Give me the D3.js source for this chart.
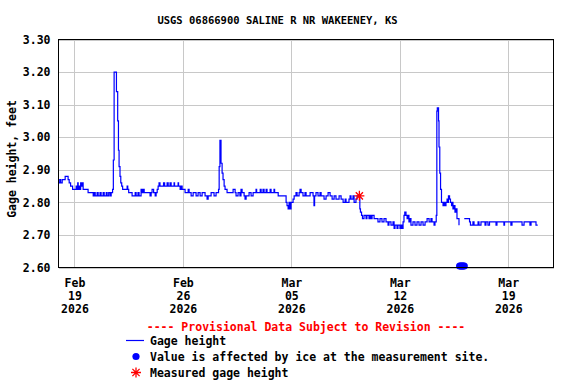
<!DOCTYPE html>
<html>
<head>
<meta charset="utf-8">
<script src="https://cdn.jsdelivr.net/npm/d3@7"></script>
<style>
  html, body { margin: 0; padding: 0; background: #fff; }
  svg { display: block; }
  text { font-family: "DejaVu Sans Mono", "Liberation Mono", monospace; font-weight: bold; }
</style>
</head>
<body>
<svg id="chart" width="576" height="384"></svg>
<script>
// ---- Data (time in days since 2026-02-19 00:00 UTC) ----
const title = "USGS 06866900 SALINE R NR WAKEENEY, KS";
const yLabel = "Gage height, feet";
const provisionalText = "---- Provisional Data Subject to Revision ----";
const legendLabels = ["Gage height", "Value is affected by ice at the measurement site.", "Measured gage height"];

const days = [
  -1.05,-0.95,-0.89,-0.79,-0.60,-0.41,-0.34,-0.25,-0.12,0.11,0.14,0.21,0.24,0.30,0.37,0.40,0.46,0.49,0.56,0.63,0.88,
  1.21,1.27,1.34,1.46,1.53,1.65,1.72,1.85,1.92,2.05,2.11,2.21,2.30,2.37,2.46,2.51,2.56,2.68,2.71,2.79,2.84,2.88,2.94,2.99,
  3.05,3.11,3.40,3.44,3.50,3.72,3.92,3.98,4.10,4.17,4.30,4.37,4.43,4.50,4.69,4.88,4.95,5.01,5.11,5.21,5.27,5.34,5.40,5.46,5.52,
  5.66,5.75,5.82,5.98,6.05,6.17,6.24,6.43,6.46,6.69,6.72,6.82,6.88,6.95,7.14,7.34,7.40,7.53,7.66,7.85,7.98,8.11,8.24,8.43,8.56,8.63,
  8.82,9.01,9.14,9.30,9.34,9.39,9.45,9.46,9.53,9.59,9.66,9.72,9.85,10.24,10.37,10.43,10.56,10.68,10.75,10.82,10.95,11.01,11.08,
  11.27,11.40,11.53,11.72,11.76,11.99,12.05,12.17,12.24,12.37,12.43,12.63,12.69,12.88,12.92,13.15,13.47,13.66,13.72,13.79,13.85,13.92,13.98,
  14.11,14.18,14.30,14.37,14.50,14.56,14.63,14.75,14.88,14.95,15.21,15.40,15.46,15.50,15.59,15.72,15.85,15.92,16.11,16.24,16.37,16.50,
  16.63,16.76,16.88,17.08,17.21,17.34,17.47,17.53,17.72,17.79,17.85,17.98,18.05,18.17,18.24,18.39,18.42,18.46,18.53,18.59,18.69,18.82,
  18.88,18.95,19.01,19.08,19.14,19.21,19.34,19.59,19.72,19.85,19.98,20.11,20.24,20.30,20.43,20.56,20.63,20.69,20.82,20.88,21.01,21.08,
  21.14,21.21,21.27,21.32,21.40,21.47,21.53,21.59,21.66,21.72,21.85,21.98,22.11,22.24,22.37,22.50,22.63,22.76,22.89,23.01,23.08,23.21,
  23.27,23.35,23.39,23.42,23.46,23.50,23.53,23.58,23.63,23.69,23.79,23.85,23.92,23.98,24.05,24.11,24.14,24.21,24.27,24.34,24.40,24.43,
  24.50,24.56,24.63,24.69,24.76,24.82,24.84,
  25.16,25.50,25.56,25.72,25.79,26.05,26.11,26.24,26.50,26.56,26.69,26.79,27.21,27.27,27.72,27.76,28.17,28.24,28.76,28.89,29.02,
  29.40,29.47,29.79,29.90
];
const gageHeight = [
  2.86,2.87,2.86,2.87,2.88,2.87,2.86,2.85,2.84,2.85,2.84,2.86,2.84,2.85,2.84,2.86,2.85,2.86,2.84,2.84,2.83,
  2.82,2.83,2.82,2.83,2.82,2.83,2.82,2.83,2.82,2.83,2.82,2.83,2.82,2.83,2.84,2.93,3.20,3.20,3.14,3.05,2.96,2.91,2.88,2.86,
  2.85,2.84,2.85,2.84,2.83,2.82,2.83,2.82,2.83,2.82,2.84,2.83,2.84,2.83,2.83,2.82,2.83,2.84,2.83,2.82,2.83,2.84,2.85,2.86,2.85,
  2.85,2.86,2.85,2.86,2.85,2.86,2.85,2.86,2.85,2.86,2.85,2.84,2.85,2.84,2.83,2.84,2.83,2.82,2.83,2.82,2.83,2.82,2.83,2.82,2.81,2.82,
  2.83,2.82,2.83,2.84,2.91,2.99,2.99,2.92,2.89,2.87,2.85,2.84,2.83,2.84,2.83,2.82,2.83,2.82,2.84,2.83,2.82,2.81,2.82,
  2.83,2.82,2.83,2.84,2.83,2.84,2.83,2.84,2.83,2.84,2.83,2.84,2.83,2.84,2.83,2.82,2.82,2.80,2.79,2.78,2.80,2.78,2.80,
  2.81,2.82,2.83,2.82,2.83,2.84,2.83,2.82,2.83,2.82,2.83,2.82,2.79,2.82,2.83,2.82,2.83,2.82,2.81,2.82,2.83,2.82,
  2.81,2.82,2.81,2.82,2.81,2.80,2.81,2.80,2.81,2.82,2.81,2.82,2.80,2.81,2.82,2.82,2.78,2.77,2.76,2.75,2.76,2.75,
  2.76,2.76,2.75,2.76,2.75,2.76,2.75,2.74,2.75,2.74,2.75,2.74,2.73,2.74,2.73,2.74,2.72,2.73,2.72,2.73,2.72,2.73,
  2.72,2.74,2.76,2.77,2.76,2.75,2.76,2.74,2.75,2.73,2.74,2.73,2.74,2.73,2.74,2.73,2.74,2.75,2.74,2.75,2.74,2.73,
  2.74,2.76,3.08,3.09,3.09,3.05,2.97,2.89,2.84,2.80,2.79,2.80,2.79,2.80,2.81,2.80,2.82,2.81,2.80,2.79,2.80,2.78,
  2.79,2.77,2.78,2.75,2.75,2.73,null,
  2.75,2.74,2.73,2.74,2.73,2.74,2.73,2.74,2.73,2.74,2.73,2.74,2.73,2.74,2.73,2.74,2.73,2.74,2.74,2.73,2.74,
  2.73,2.74,2.73,2.73
];
// Ice-affected values (plotted at bottom of scale)
const iceDays = [24.86, 24.92, 24.98, 25.04, 25.10, 25.16];
const iceValues = [2.60, 2.60, 2.60, 2.60, 2.60, 2.60];
// Measured gage height
const measuredDays = [18.39];
const measuredValues = [2.82];
// Axis ticks
const yTicks = [2.60, 2.70, 2.80, 2.90, 3.00, 3.10, 3.20, 3.30];
const xTickDays = [0, 7, 14, 21, 28];
const xDomainDays = [-1.03, 30.92];

// ---- Drawing ----
const base = Date.UTC(2026, 1, 19);
const toDate = d => new Date(base + d * 864e5);

const svg = d3.select("#chart");
const plot = { left: 58.5, right: 553.5, top: 39.5, bottom: 267.5 };

const x = d3.scaleUtc().domain(xDomainDays.map(toDate)).range([plot.left, plot.right]);
const y = d3.scaleLinear().domain([2.60, 3.30]).range([plot.bottom, plot.top]);

// grid
const grid = svg.append("g").attr("shape-rendering", "crispEdges");
grid.selectAll("line.h").data(yTicks).join("line")
  .attr("x1", plot.left).attr("x2", plot.right)
  .attr("y1", d => Math.round(y(d)) + 0.5).attr("y2", d => Math.round(y(d)) + 0.5)
  .attr("stroke", "#c8c8c8").attr("stroke-width", 1.5);
grid.selectAll("line.v").data(xTickDays).join("line")
  .attr("x1", d => Math.round(x(toDate(d))) + 0.5).attr("x2", d => Math.round(x(toDate(d))) + 0.5)
  .attr("y1", plot.top).attr("y2", plot.bottom)
  .attr("stroke", "#c8c8c8").attr("stroke-width", 1.5);

// y axis labels
const yAxis = d3.axisLeft(y).tickValues(yTicks).tickFormat(d3.format(".2f")).tickSize(0).tickPadding(8);
const gy = svg.append("g").attr("transform", `translate(${plot.left},0)`).call(yAxis);
gy.select(".domain").remove();
gy.selectAll("text").attr("font-size", 11.5).attr("font-family", "DejaVu Sans Mono").attr("font-weight", "bold").attr("fill", "#000");

// x axis labels (three lines)
const fmtMon = d3.utcFormat("%b"), fmtDay = d3.utcFormat("%d"), fmtYear = d3.utcFormat("%Y");
const xAxis = d3.axisBottom(x).tickValues(xTickDays.map(toDate)).tickSize(0).tickFormat("");
const gx = svg.append("g").attr("transform", `translate(0,${plot.bottom})`).call(xAxis);
gx.select(".domain").remove();
gx.selectAll(".tick").each(function(d) {
  const t = d3.select(this).append("text").attr("fill", "#000").attr("text-anchor", "middle")
    .attr("font-size", 11.5).attr("font-family", "DejaVu Sans Mono").attr("font-weight", "bold");
  [fmtMon(d), fmtDay(d), fmtYear(d)].forEach((s, i) => {
    t.append("tspan").attr("x", 0).attr("y", 19 + i * 13).text(s);
  });
});

// data line
const pts = days.map((d, i) => ({ t: toDate(d), v: gageHeight[i] }));
const line = d3.line().defined(d => d.v != null).x(d => x(d.t)).y(d => y(d.v)).curve(d3.curveStepAfter);
svg.append("path").datum(pts).attr("d", line)
  .attr("fill", "none").attr("stroke", "#0000ff").attr("stroke-width", 1.2);

// ice dots
svg.append("g").selectAll("circle").data(iceDays.map((d, i) => ({ t: toDate(d), v: iceValues[i] }))).join("circle")
  .attr("cx", d => x(d.t)).attr("cy", d => y(d.v) - 1.5).attr("r", 3.6).attr("fill", "#0000ff");

// measured star
function starPath(cx, cy, r) {
  const a = r * 0.72;
  return `M${cx - r},${cy}L${cx + r},${cy}M${cx},${cy - r}L${cx},${cy + r}` +
         `M${cx - a},${cy - a}L${cx + a},${cy + a}M${cx - a},${cy + a}L${cx + a},${cy - a}`;
}
svg.append("g").selectAll("path").data(measuredDays.map((d, i) => ({ t: toDate(d), v: measuredValues[i] }))).join("path")
  .attr("d", d => starPath(x(d.t), y(d.v), 5))
  .attr("stroke", "#ff0000").attr("stroke-width", 1.3).attr("fill", "none");
svg.append("g").selectAll("circle").data(measuredDays.map((d, i) => ({ t: toDate(d), v: measuredValues[i] }))).join("circle")
  .attr("cx", d => x(d.t)).attr("cy", d => y(d.v)).attr("r", 1.6).attr("fill", "#ff0000");

// plot border
svg.append("rect").attr("x", plot.left).attr("y", plot.top)
  .attr("width", plot.right - plot.left).attr("height", plot.bottom - plot.top)
  .attr("fill", "none").attr("stroke", "#000").attr("stroke-width", 1.3).attr("shape-rendering", "crispEdges");

// title
svg.append("text").attr("x", 277.5).attr("y", 24).attr("text-anchor", "middle")
  .attr("font-size", 10.5).attr("fill", "#000").text(title);

// y label
svg.append("text").attr("transform", "translate(16,159) rotate(-90)").attr("text-anchor", "middle")
  .attr("font-size", 11.5).attr("fill", "#000").text(yLabel);

// provisional
svg.append("text").attr("x", 306).attr("y", 331).attr("text-anchor", "middle")
  .attr("font-size", 11.5).attr("fill", "#ff0000").text(provisionalText);

// legend
const lg = svg.append("g");
lg.append("line").attr("x1", 126).attr("x2", 144).attr("y1", 340.5).attr("y2", 340.5)
  .attr("stroke", "#0000ff").attr("stroke-width", 1.2);
lg.append("circle").attr("cx", 136).attr("cy", 356.5).attr("r", 3.6).attr("fill", "#0000ff");
lg.append("path").attr("d", starPath(136, 372.5, 5)).attr("stroke", "#ff0000").attr("stroke-width", 1.3).attr("fill", "none");
lg.selectAll("text").data(legendLabels).join("text")
  .attr("x", 150).attr("y", (d, i) => 344.5 + i * 16).attr("font-size", 11.5).attr("fill", "#000").text(d => d);
</script>
</body>
</html>
